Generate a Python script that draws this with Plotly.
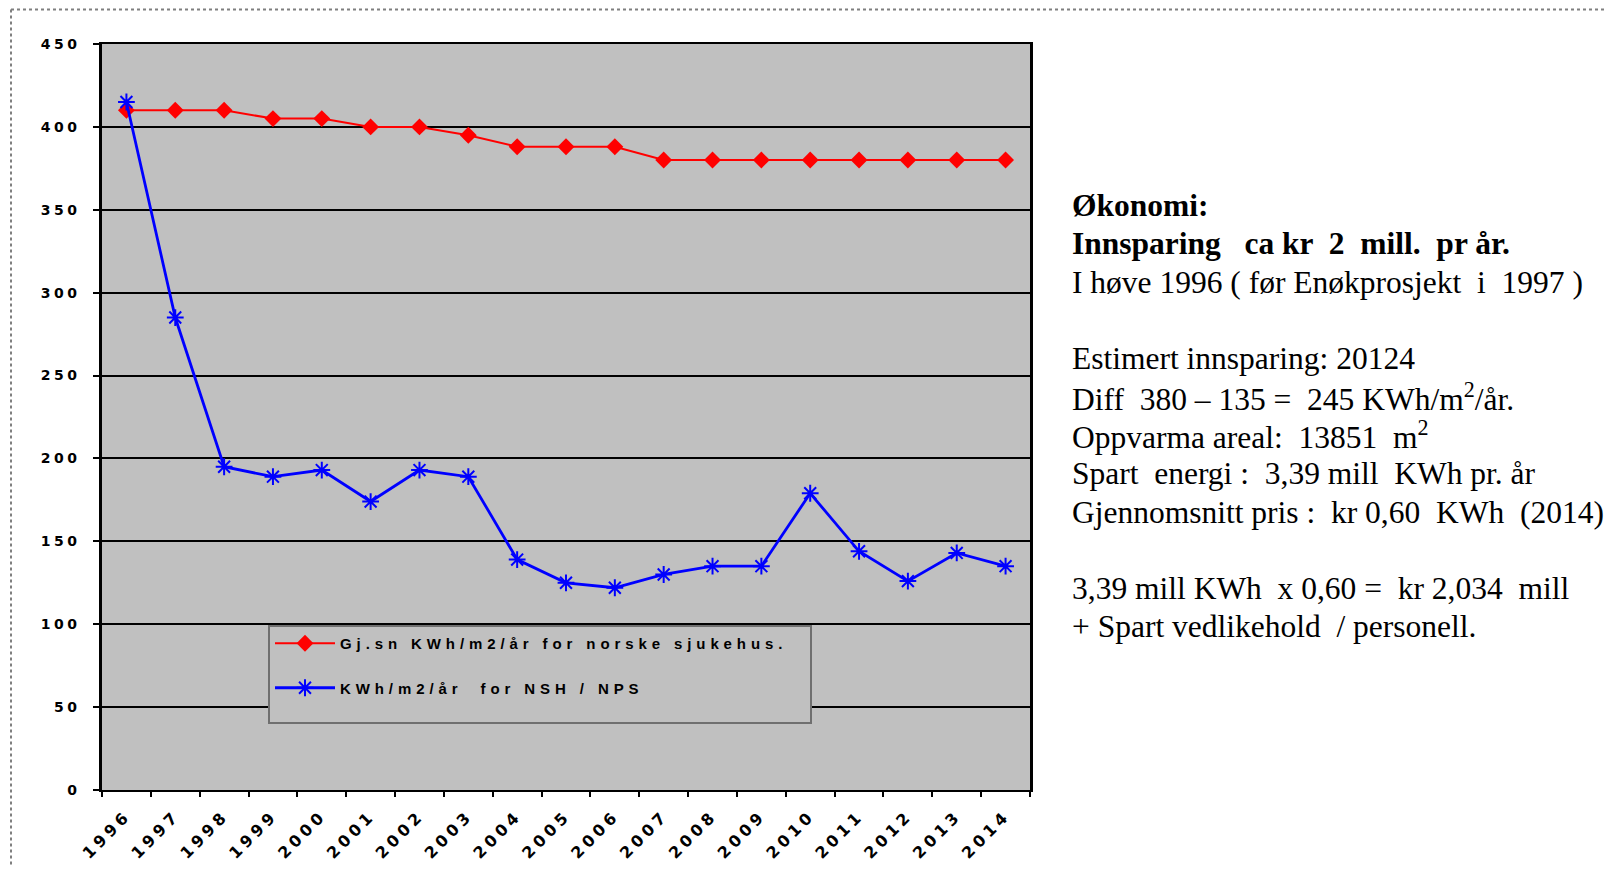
import plotly.graph_objects as go

# ---- data ----
years = [str(y) for y in range(1996, 2015)]
norske_sjukehus = [410, 410, 410, 405, 405, 400, 400, 395, 388, 388, 388,
                   380, 380, 380, 380, 380, 380, 380, 380]
nsh_nps = [415, 285, 195, 189, 193, 174, 193, 189, 139, 125, 122,
           130, 135, 135, 179, 144, 126, 143, 135]
name_red = "Gj.sn KWh/m2/år for norske sjukehus."
name_blue = "KWh/m2/år  for NSH / NPS"
y_ticks = [0, 50, 100, 150, 200, 250, 300, 350, 400, 450]

info_lines = [
    "Økonomi:",
    "Innsparing \u00a0 ca kr \u00a02 \u00a0mill. \u00a0pr år.",
    "I høve 1996 ( før Enøkprosjekt \u00a0i \u00a01997 )",
    "Estimert innsparing: 20124",
    "Diff \u00a0380 – 135 = \u00a0245 KWh/m<sup>2</sup>/år.",
    "Oppvarma areal: \u00a013851 \u00a0m<sup>2</sup>",
    "Spart \u00a0energi : \u00a03,39 mill \u00a0KWh pr. år",
    "Gjennomsnitt pris : \u00a0kr 0,60 \u00a0KWh \u00a0(2014)",
    "3,39 mill KWh \u00a0x 0,60 = \u00a0kr 2,034 \u00a0mill",
    "+ Spart vedlikehold \u00a0/ personell.",
]
info_rows = [0, 1, 2, 4, 5, 6, 7, 8, 10, 11]
info_bold = [True, True] + [False] * 8

# ---- layout geometry (pixels, reference page coords; page has 8px body margin) ----
OFF = 8
W, H = 1612 - OFF, 875 - 2 * OFF
L, R, T, B = 102, 1030, 44, 790
pw, ph = R - L, B - T


def px(x):
    return (x - L) / pw


def py(y):
    return (B - y) / ph


fig = go.Figure()
fig.add_trace(go.Scatter(
    x=years, y=norske_sjukehus, name=name_red, mode="lines+markers",
    line=dict(color="#ff0000", width=2),
    marker=dict(symbol="diamond", size=13, color="#ff0000"),
    legendgroup="a",
))
fig.add_trace(go.Scatter(
    x=years, y=nsh_nps, name=name_blue, mode="lines+markers",
    line=dict(color="#0000ff", width=2.8),
    marker=dict(symbol="asterisk-open", size=14,
                line=dict(color="#0000ff", width=2)),
    legendgroup="b",
))

shapes = [
    # outer dotted frame (top and left)
    dict(type="line", xref="paper", yref="paper", x0=px(11), x1=px(1612),
         y0=py(9.5), y1=py(9.5), line=dict(color="#7f7f7f", width=2, dash="dot")),
    dict(type="line", xref="paper", yref="paper", x0=px(11), x1=px(11),
         y0=py(9.5), y1=py(875), line=dict(color="#7f7f7f", width=2, dash="dot")),
    # right shadow of plot area
    dict(type="line", xref="paper", yref="paper", x0=px(R + 1.5), x1=px(R + 1.5),
         y0=py(B), y1=py(T), line=dict(color="black", width=3)),
]

annotations = []
y0_line, dy = 205.6, 38.3
for text, row, bold in zip(info_lines, info_rows, info_bold):
    annotations.append(dict(
        text=text, xref="paper", yref="paper", x=px(1070), y=py(y0_line + row * dy),
        xanchor="left", yanchor="middle", showarrow=False, align="left",
        font=dict(family="Liberation Serif", size=31.5, color="black",
                  weight="bold" if bold else "normal"),
    ))

fig.update_layout(
    width=W, height=H,
    margin=dict(l=L - OFF, r=W - (R - OFF), t=T - OFF, b=H - (B - OFF), pad=0),
    paper_bgcolor="white", plot_bgcolor="#c0c0c0",
    showlegend=True,
    legend=dict(
        x=px(268), y=py(625), xanchor="left", yanchor="top",
        bgcolor="#c0c0c0", bordercolor="#6f6f6f", borderwidth=2,
        font=dict(family="Liberation Sans", size=15, color="black", weight="bold"),
        tracegroupgap=22, itemwidth=60,
    ),
    xaxis=dict(
        type="category", range=[-0.5, len(years) - 0.5],
        showgrid=False, showline=True, linecolor="black", linewidth=2, mirror=True,
        ticks="outside", ticklen=5, tickwidth=2, tickcolor="black",
        tickson="boundaries", tickangle=-45, ticklabelstandoff=8,
        tickfont=dict(family="DejaVu Sans", size=16, color="black", weight="bold"),
    ),
    yaxis=dict(
        range=[0, 450], tickvals=y_ticks,
        showgrid=True, gridcolor="black", gridwidth=2,
        showline=True, linecolor="black", linewidth=2.5, mirror=True,
        ticks="outside", ticklen=6, tickwidth=2, tickcolor="black",
        ticklabelstandoff=10, zeroline=False,
        tickfont=dict(family="DejaVu Sans", size=14, color="black", weight="bold"),
    ),
    shapes=shapes,
    annotations=annotations,
)

post = """
var gd = document.getElementById('{plot_id}');
gd.querySelectorAll('.ytick text').forEach(function(e){e.style.letterSpacing='3.5px';});
gd.querySelectorAll('.xtick text').forEach(function(e){e.style.letterSpacing='4px';});
gd.querySelectorAll('.legendtext').forEach(function(e){e.style.letterSpacing='4.9px';});
try {
  var bg = gd.querySelector('.legend rect.bg');
  if (bg) { bg.setAttribute('width', 542); bg.setAttribute('height', 97); }
  var sb = gd.querySelector('.legend .scrollbox');
  var cp = sb ? sb.getAttribute('clip-path') : null;
  if (cp) {
    var m = cp.match(/#([^)'"]+)/);
    var cpel = m ? document.getElementById(m[1]) : null;
    var r = cpel ? cpel.querySelector('rect') : null;
    if (r) { r.setAttribute('width', 540); r.setAttribute('height', 95); }
  }
} catch (err) {}
"""
fig.write_html("out.html", post_script=post)
